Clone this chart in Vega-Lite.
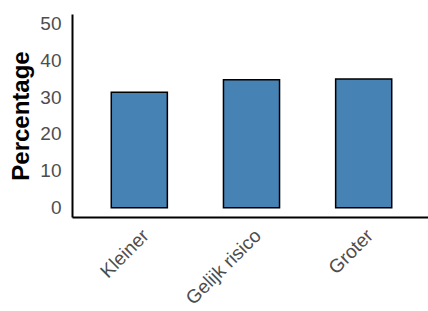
{
  "$schema": "https://vega.github.io/schema/vega-lite/v6.json",
  "autosize": "none",
  "width": 359,
  "height": 203,
  "padding": {"left": 72, "top": 14, "right": 0, "bottom": 94},
  "background": "white",
  "config": {"view": {"stroke": null}, "font": "Liberation Sans"},
  "data": {"values": [
    {"categorie": "Kleiner", "percentage": 31.3},
    {"categorie": "Gelijk risico", "percentage": 34.7},
    {"categorie": "Groter", "percentage": 34.9}
  ]},
  "mark": {"type": "bar", "fill": "#4682b4", "stroke": "black", "strokeWidth": 1.5},
  "encoding": {
    "x": {
      "field": "categorie", "type": "nominal", "sort": null,
      "scale": {"paddingInner": 0.5, "paddingOuter": 0.35},
      "axis": {"title": null, "labelAngle": -45, "labelAlign": "right", "labelBaseline": "top",
               "labelFontSize": 19, "labelColor": "#4d4d4d", "labelPadding": 9, "ticks": false,
               "domainColor": "black", "domainWidth": 2}
    },
    "y": {
      "field": "percentage", "type": "quantitative",
      "scale": {"domain": [-2.5, 52.5], "nice": false, "zero": false},
      "axis": {"title": "Percentage", "titleFontSize": 24, "titleFontWeight": "bold", "titleColor": "black",
               "titlePadding": 6, "values": [0, 10, 20, 30, 40, 50], "labelFontSize": 19, "labelColor": "#4d4d4d",
               "labelPadding": 11, "ticks": false, "grid": false, "domainColor": "black", "domainWidth": 2}
    },
    "y2": {"datum": 0}
  }
}
